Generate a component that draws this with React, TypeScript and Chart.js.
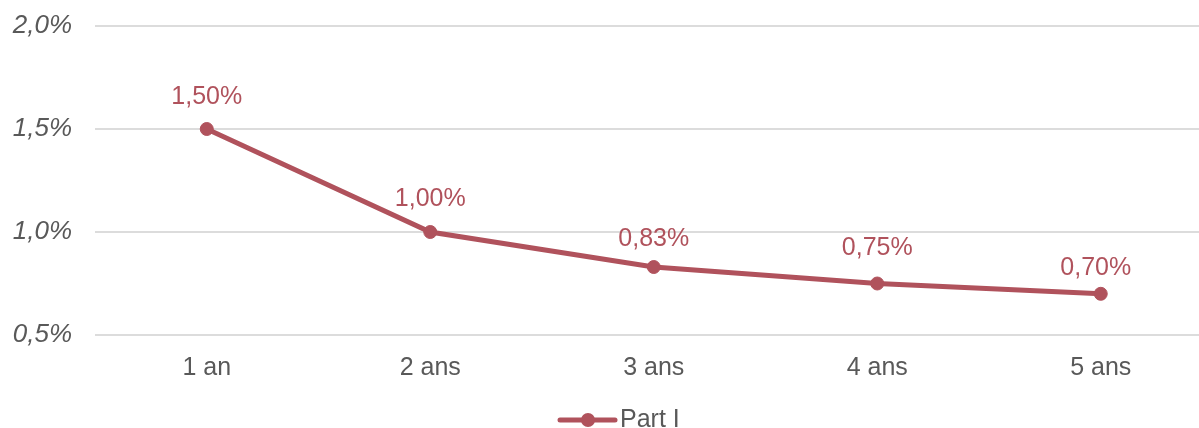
import React, { useEffect, useRef } from "react";
import { Chart, registerables } from "chart.js";

Chart.register(...registerables);

const categories = ["1 an", "2 ans", "3 ans", "4 ans", "5 ans"];
const partI = [1.5, 1.0, 0.83, 0.75, 0.7];
const seriesName = "Part I";
const yMin = 0.5;
const yMax = 2.0;
const yStep = 0.5;

const FONT = "'Liberation Sans', Arial, Helvetica, sans-serif";
const SERIES_COLOR = "#B0525C";
const TEXT_GRAY = "#595959";

const fmtTick = (v: number) => v.toFixed(1).replace(".", ",") + "%";
const fmtLabel = (v: number) => v.toFixed(2).replace(".", ",") + "%";

const dataLabelPlugin = {
  id: "dataLabels",
  afterDatasetsDraw(chart: any, _args: any, opts: any) {
    const ctx = chart.ctx;
    const meta = chart.getDatasetMeta(0);
    const values = chart.data.datasets[0].data as number[];
    ctx.save();
    ctx.font = `25px ${FONT}`;
    ctx.fillStyle = SERIES_COLOR;
    ctx.textAlign = "center";
    ctx.textBaseline = "middle";
    meta.data.forEach((pt: any, i: number) => {
      const off = (opts.offsets && opts.offsets[i]) || 31;
      const dx = (opts.dx && opts.dx[i]) || 0;
      ctx.fillText(fmtLabel(values[i]), pt.x + dx, pt.y - off);
    });
    ctx.restore();
  },
};

const legendPlugin = {
  id: "customLegend",
  afterDraw(chart: any, _args: any, opts: any) {
    const ctx = chart.ctx;
    const x0 = opts.x;
    const y = opts.y;
    ctx.save();
    ctx.strokeStyle = SERIES_COLOR;
    ctx.lineWidth = 5;
    ctx.lineCap = "round";
    ctx.beginPath();
    ctx.moveTo(x0, y);
    ctx.lineTo(x0 + 55, y);
    ctx.stroke();
    ctx.fillStyle = SERIES_COLOR;
    ctx.beginPath();
    ctx.arc(x0 + 28, y, 7, 0, Math.PI * 2);
    ctx.fill();
    ctx.font = `25px ${FONT}`;
    ctx.fillStyle = TEXT_GRAY;
    ctx.textAlign = "left";
    ctx.textBaseline = "alphabetic";
    ctx.fillText(chart.data.datasets[0].label, x0 + 60, y + 7);
    ctx.restore();
  },
};

export default function App() {
  const ref = useRef<HTMLCanvasElement | null>(null);

  useEffect(() => {
    if (!ref.current) return;
    const chart = new Chart(ref.current, {
      type: "line",
      data: {
        labels: categories,
        datasets: [
          {
            label: seriesName,
            data: partI,
            borderColor: SERIES_COLOR,
            backgroundColor: SERIES_COLOR,
            borderWidth: 5,
            pointRadius: 6.5,
            pointBorderWidth: 1,
            pointBackgroundColor: SERIES_COLOR,
            pointBorderColor: SERIES_COLOR,
            tension: 0,
          },
        ],
      },
      options: {
        animation: false,
        responsive: true,
        maintainAspectRatio: false,
        layout: { padding: { top: 26, left: 0, right: 0, bottom: 0 } },
        plugins: {
          legend: { display: false },
          tooltip: { enabled: false },
          dataLabels: {
            offsets: [32, 33, 28, 35, 26],
            dx: [0, 0, 0, 0, -5],
          },
          customLegend: { x: 560, y: 420 },
        } as any,
        scales: {
          x: {
            type: "category",
            offset: true,
            grid: { display: false, drawTicks: false },
            border: { display: false },
            ticks: {
              color: TEXT_GRAY,
              font: { family: FONT, size: 25 },
              padding: 18,
            },
            afterFit: (scale: any) => {
              scale.height = 93;
              scale.paddingLeft = 0;
              scale.paddingRight = 0;
            },
          },
          y: {
            min: yMin,
            max: yMax,
            grid: { color: "#DCDCDC", lineWidth: 2, drawTicks: false },
            border: { display: false },
            ticks: {
              stepSize: yStep,
              color: TEXT_GRAY,
              font: { family: FONT, size: 26, style: "italic" },
              padding: 23,
              callback: (v: any) => fmtTick(Number(v)),
            },
            afterFit: (scale: any) => {
              scale.width = 95;
              scale.paddingTop = 0;
              scale.paddingBottom = 0;
            },
          },
        },
      },
      plugins: [dataLabelPlugin, legendPlugin],
    });
    return () => chart.destroy();
  }, []);

  return (
    <div
      style={{
        position: "absolute",
        left: 0,
        top: 0,
        width: 1199,
        height: 428,
        overflow: "hidden",
        background: "#fff",
      }}
    >
      <div style={{ position: "relative", width: 1220, height: 428 }}>
        <canvas ref={ref} />
      </div>
    </div>
  );
}
